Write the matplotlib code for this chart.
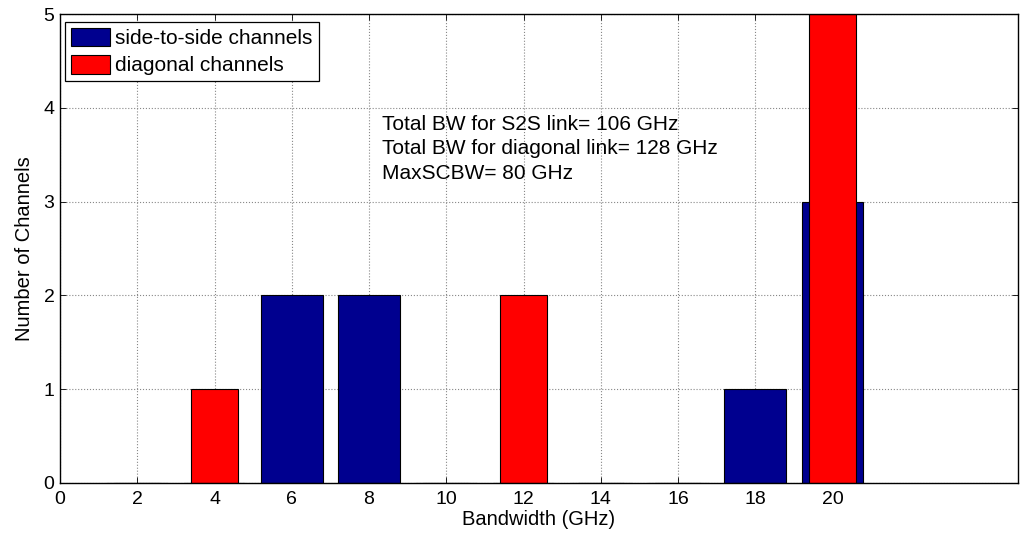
import matplotlib
matplotlib.use("Agg")
import matplotlib.pyplot as plt
import numpy as np

bandwidth = [2, 4, 6, 8, 10, 12, 14, 16, 18, 20]
s2s_counts = [0, 0, 2, 2, 0, 0, 0, 0, 1, 3]
diag_counts = [0, 1, 0, 0, 0, 2, 0, 0, 0, 5]
xticks = [0, 2, 4, 6, 8, 10, 12, 14, 16, 18, 20]
yticks = [0, 1, 2, 3, 4, 5]
legend_labels = ["side-to-side channels", "diagonal channels"]
note_lines = ["Total BW for S2S link= 106 GHz",
              "Total BW for diagonal link= 128 GHz",
              "MaxSCBW= 80 GHz"]

plt.rcParams['font.family'] = ['Liberation Sans', 'DejaVu Sans']

fig = plt.figure(figsize=(10.21, 5.35), dpi=100)
ax = fig.add_axes([0.0588, 0.0972, 0.9382, 0.8766])

ax.bar(bandwidth, s2s_counts, width=1.6, color='#00008F', edgecolor='black',
       linewidth=0.8, label=legend_labels[0], zorder=2)
ax.bar(bandwidth, diag_counts, width=1.2, color='#FF0000', edgecolor='black',
       linewidth=0.8, label=legend_labels[1], zorder=3)

ax.set_xlim(0, 24.8)
ax.set_ylim(0, 5)
ax.set_xticks(xticks)
ax.set_yticks(yticks)
ax.tick_params(direction='in', top=True, right=True, labelsize=14, length=4, width=0.6)
ax.tick_params(axis='x', pad=6)
ax.tick_params(axis='y', pad=4)
ax.grid(True, linestyle=':', color='#888888', linewidth=0.8, zorder=0)
ax.set_axisbelow(True)
for s in ax.spines.values():
    s.set_linewidth(1.0)
    s.set_zorder(5)

ax.set_xlabel("Bandwidth (GHz)", fontsize=14.5, labelpad=1)
ax.set_ylabel("Number of Channels", fontsize=14.5, labelpad=7)

# annotation lines, baselines ~24.5 px apart
line_step = 24.5 / (fig.get_figheight() * fig.dpi * 0.8766) * 5
for i, line in enumerate(note_lines):
    ax.text(8.33, 3.767 - i * line_step, line, fontsize=15, va='baseline',
            ha='left', zorder=6)

leg = ax.legend(loc='upper left', bbox_to_anchor=(0.005, 0.983), fontsize=15,
                fancybox=False, framealpha=1, edgecolor='black',
                handlelength=1.9, handleheight=1.0, handletextpad=0.25,
                borderpad=0.28, labelspacing=0.32, borderaxespad=0)
leg.get_frame().set_linewidth(0.9)

fig.savefig("out.png", dpi=100)
